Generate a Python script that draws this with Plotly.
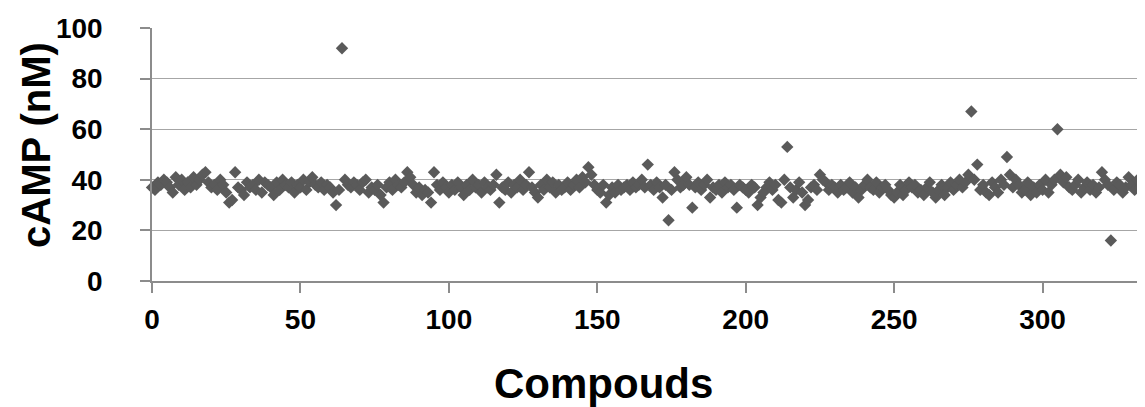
import plotly.graph_objects as go

compound_index = list(range(336))
camp_nM = [
    37, 36, 39, 38, 40, 39, 37, 35, 41, 38,
    40, 36, 39, 37, 41, 38, 40, 42, 43, 39,
    37, 38, 36, 40, 38, 35, 31, 32, 43, 37,
    36, 34, 39, 37, 38, 36, 40, 35, 39, 38,
    37, 34, 39, 36, 40, 38, 37, 39, 35, 38,
    37, 40, 36, 39, 41, 38, 37, 39, 36, 38,
    37, 35, 30, 36, 92, 40, 38, 37, 39, 38,
    36, 39, 40, 35, 37, 36, 38, 34, 31, 37,
    39, 36, 40, 38, 37, 39, 43, 41, 38, 35,
    37, 34, 36, 35, 31, 43, 38, 36, 39, 37,
    35, 38, 36, 39, 37, 34, 38, 36, 40, 37,
    38, 35, 39, 37, 36, 38, 42, 31, 37, 36,
    39, 35, 38, 37, 40, 36, 38, 43, 37, 35,
    33, 38, 36, 40, 37, 39, 35, 38, 36, 37,
    39, 36, 38, 40, 37, 41, 39, 45, 42, 38,
    36, 35, 38, 31, 34, 37, 35, 38, 36, 37,
    38, 36, 39, 37, 38, 40, 37, 46, 38, 36,
    39, 37, 33, 38, 24, 36, 43, 40, 37, 38,
    41, 38, 29, 37, 39, 36, 38, 40, 33, 37,
    36, 38, 35, 39, 37, 38, 36, 29, 38, 37,
    36, 35, 38, 37, 30, 33, 35, 37, 39, 36,
    38, 32, 31, 40, 53, 37, 33, 36, 39, 35,
    30, 32, 37, 38, 36, 42, 40, 39, 36, 38,
    37, 35, 38, 36, 37, 39, 35, 37, 33, 36,
    38, 40, 37, 36, 39, 35, 37, 38, 36, 34,
    33, 35, 38, 34, 36, 39, 37, 38, 35, 36,
    34, 37, 39, 35, 33, 36, 38, 34, 37, 39,
    36, 38, 40, 37, 39, 42, 67, 40, 46, 36,
    38, 35, 34, 39, 37, 35, 40, 38, 49, 42,
    37, 40, 38, 35, 36, 39, 34, 37, 35, 38,
    36, 40, 35, 38, 40, 60, 42, 39, 41, 37,
    36, 38, 40, 35, 37, 39, 36, 38, 35, 37,
    43, 40, 38, 16, 36, 39, 38, 35, 37, 41,
    38, 36, 40, 37, 39, 38,
]
y_ticks = [0, 20, 40, 60, 80, 100]
x_ticks = [0, 50, 100, 150, 200, 250, 300]

FONT = "Arial, 'Liberation Sans', sans-serif"
AXIS_GRAY = "#8c8c8c"

# page has an 8px body margin; figure is sized/margined to compensate
W, H = 1137, 399
ML, MT, MB = 144, 20, 126
PW, PH = W - ML, H - MT - MB

fig = go.Figure()
fig.add_trace(go.Scatter(
    x=compound_index, y=camp_nM, mode="markers",
    marker=dict(symbol="diamond", size=9.5, color="#5a5a5a", line=dict(width=0)),
    cliponaxis=False, showlegend=False,
))

fig.update_layout(
    width=W, height=H,
    margin=dict(l=ML, r=0, t=MT, b=MB, autoexpand=False),
    paper_bgcolor="white", plot_bgcolor="white",
    font=dict(family=FONT, color="black"),
    xaxis=dict(
        range=[0, 334.5], tickvals=x_ticks, ticks="outside", ticklen=10,
        tickcolor=AXIS_GRAY, tickwidth=1.5, showline=True, linecolor=AXIS_GRAY,
        linewidth=1.5, showgrid=False, zeroline=False,
        tickfont=dict(size=28, family=FONT, weight="bold"), ticklabelstandoff=3,
    ),
    yaxis=dict(
        range=[0, 100], tickvals=y_ticks, ticks="outside", ticklen=10,
        tickcolor=AXIS_GRAY, tickwidth=1.5, showline=True, linecolor=AXIS_GRAY,
        linewidth=1.5, showgrid=True, gridcolor="#a6a6a6", gridwidth=1,
        zeroline=False, tickfont=dict(size=28, family=FONT, weight="bold"),
        ticklabelstandoff=32,
    ),
    annotations=[
        dict(text="<b>cAMP (nM)</b>", xref="paper", yref="paper",
             x=-116 / PW, y=136 / PH, textangle=-90,
             showarrow=False, font=dict(size=40, family=FONT, color="black"),
             xanchor="center", yanchor="middle"),
        dict(text="<b>Compouds</b>", xref="paper", yref="paper",
             x=451 / PW, y=-103 / PH,
             showarrow=False, font=dict(size=42, family=FONT, color="black"),
             xanchor="center", yanchor="middle"),
    ],
)

fig.write_html("out.html")
